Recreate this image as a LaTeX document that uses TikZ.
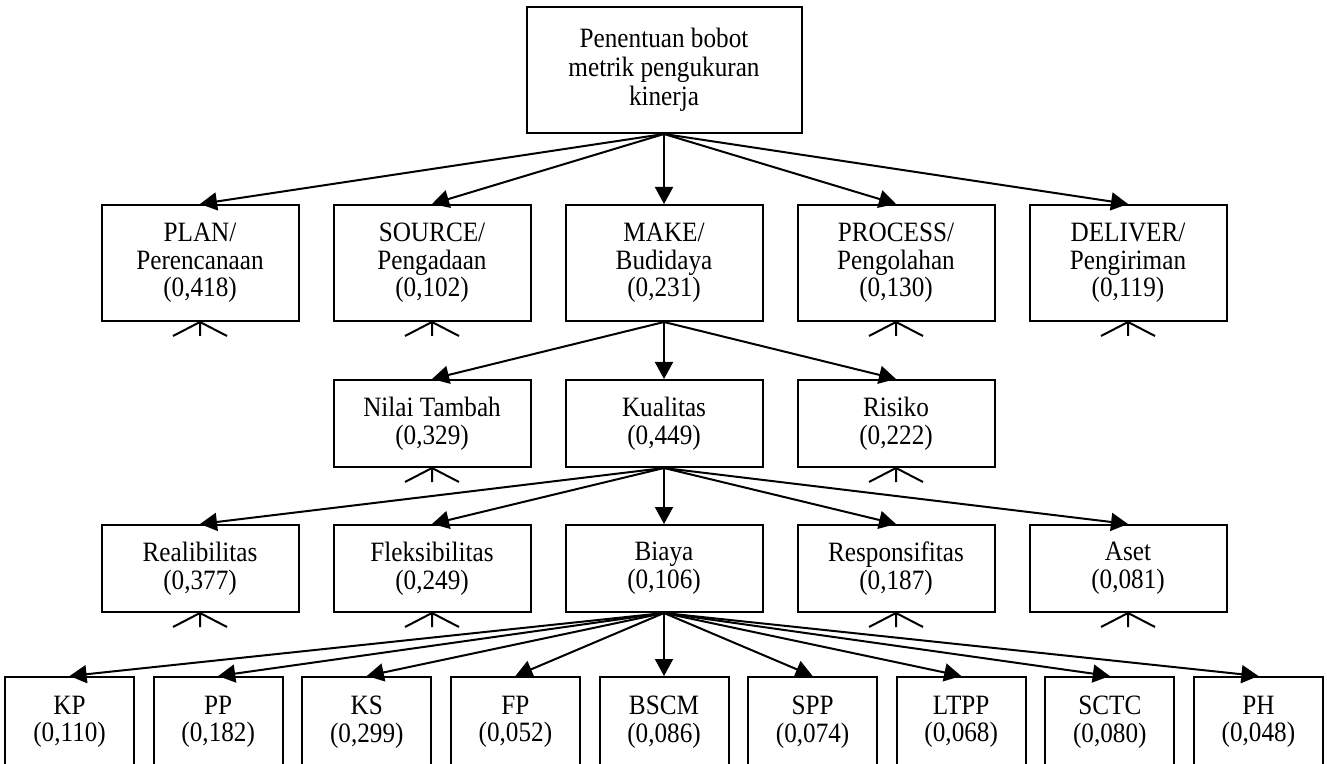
\documentclass[tikz,border=0pt]{standalone}
\usepackage{fontspec}
\setmainfont{Liberation Serif}[FakeStretch=0.9]
\usepackage{tikz}
\usetikzlibrary{arrows.meta, positioning}
\tikzstyle{arrow} = [line width=1pt,-{Triangle[length=8.5pt,width=9pt]}]
\tikzstyle{goal} = [rectangle, minimum width=137.5pt, minimum height=63pt, align=center, draw=black, line width=1pt, font=\fontsize{14pt}{14.5pt}\selectfont]
\tikzstyle{process} = [rectangle, minimum width=98.5pt, minimum height=58pt, align=center, draw=black, line width=1pt, font=\fontsize{14pt}{13.8pt}\selectfont]
\tikzstyle{attribute} = [process, minimum height=43.5pt]
\tikzstyle{metric} = [process, minimum width=64.5pt, minimum height=45pt]
\newcommand\crowfoot[1]{\draw [line width=1pt] (#1.south) -- ++(0,-7pt) (#1.south) -- ++(-13.5pt,-7pt) (#1.south) -- ++(13.5pt,-7pt);}

\begin{document}
\begin{tikzpicture}
\useasboundingbox (0,0) rectangle (663.5pt,-382pt);
%----------------------------------------------------------------------------
% Goal
\node (bobotMetrik) [goal] at (332pt,-35pt) {Penentuan bobot\\metrik pengukuran\\kinerja};

% Processes
\node (make) [process, below = 35pt of bobotMetrik] {MAKE/\\Budidaya\\(0,231)};
\node (source) [process, left = 16.5pt of make] {SOURCE/\\Pengadaan\\(0,102)};
\node (plan) [process, left = 16.5pt of source] {PLAN/\\Perencanaan\\(0,418)};
\node (process) [process, right = 16.5pt of make] {PROCESS/\\Pengolahan\\(0,130)};
\node (deliver) [process, right = 16.5pt of process] {DELIVER/\\Pengiriman\\(0,119)};

% Make attributes
\node (kualitas) [attribute, below = 28.5pt of make] {Kualitas\\(0,449)};
\node (nilaiTambah) [attribute, left = 16.5pt of kualitas] {Nilai Tambah\\(0,329)};
\node (risiko) [attribute, right = 16.5pt of kualitas] {Risiko\\(0,222)};

% Kualitas attributes
\node (biaya) [attribute, below = 28pt of kualitas] {Biaya\\(0,106)};
\node (fleksibilitas) [attribute, left = 16.5pt of biaya] {Fleksibilitas\\(0,249)};
\node (realibilitas) [attribute, left = 16.5pt of fleksibilitas] {Realibilitas\\(0,377)};
\node (responsifitas) [attribute, right = 16.5pt of biaya] {Responsifitas\\(0,187)};
\node (aset) [attribute, right = 16.5pt of responsifitas] {Aset\\(0,081)};

% Biaya metrics
\node (bscm) [metric, below = 31.5pt of biaya] {BSCM\\(0,086)};
\node (fp) [metric, left = 8.8pt of bscm] {FP\\(0,052)};
\node (ks) [metric, left = 8.8pt of fp] {KS\\(0,299)};
\node (pp) [metric, left = 8.8pt of ks] {PP\\(0,182)};
\node (kp) [metric, left = 8.8pt of pp] {KP\\(0,110)};
\node (spp) [metric, right = 8.8pt of bscm] {SPP\\(0,074)};
\node (ltpp) [metric, right = 8.8pt of spp] {LTPP\\(0,068)};
\node (sctc) [metric, right = 8.8pt of ltpp] {SCTC\\(0,080)};
\node (ph) [metric, right = 8.8pt of sctc] {PH\\(0,048)};

%----------------------------------------------------------------------------
% Lines
\draw [arrow] (bobotMetrik.south) -- (plan.north);
\draw [arrow] (bobotMetrik.south) -- (source.north);
\draw [arrow] (bobotMetrik.south) -- (make.north);
\draw [arrow] (bobotMetrik.south) -- (process.north);
\draw [arrow] (bobotMetrik.south) -- (deliver.north);

\draw [arrow] (make.south) -- (nilaiTambah.north);
\draw [arrow] (make.south) -- (kualitas.north);
\draw [arrow] (make.south) -- (risiko.north);

\draw [arrow] (kualitas.south) -- (realibilitas.north);
\draw [arrow] (kualitas.south) -- (fleksibilitas.north);
\draw [arrow] (kualitas.south) -- (biaya.north);
\draw [arrow] (kualitas.south) -- (responsifitas.north);
\draw [arrow] (kualitas.south) -- (aset.north);

\draw [arrow] (biaya.south) -- (kp.north);
\draw [arrow] (biaya.south) -- (pp.north);
\draw [arrow] (biaya.south) -- (ks.north);
\draw [arrow] (biaya.south) -- (fp.north);
\draw [arrow] (biaya.south) -- (bscm.north);
\draw [arrow] (biaya.south) -- (spp.north);
\draw [arrow] (biaya.south) -- (ltpp.north);
\draw [arrow] (biaya.south) -- (sctc.north);
\draw [arrow] (biaya.south) -- (ph.north);

%----------------------------------------------------------------------------
% Collapsed branches
\crowfoot{plan}
\crowfoot{source}
\crowfoot{process}
\crowfoot{deliver}
\crowfoot{nilaiTambah}
\crowfoot{risiko}
\crowfoot{realibilitas}
\crowfoot{fleksibilitas}
\crowfoot{responsifitas}
\crowfoot{aset}

\end{tikzpicture}
\end{document}
